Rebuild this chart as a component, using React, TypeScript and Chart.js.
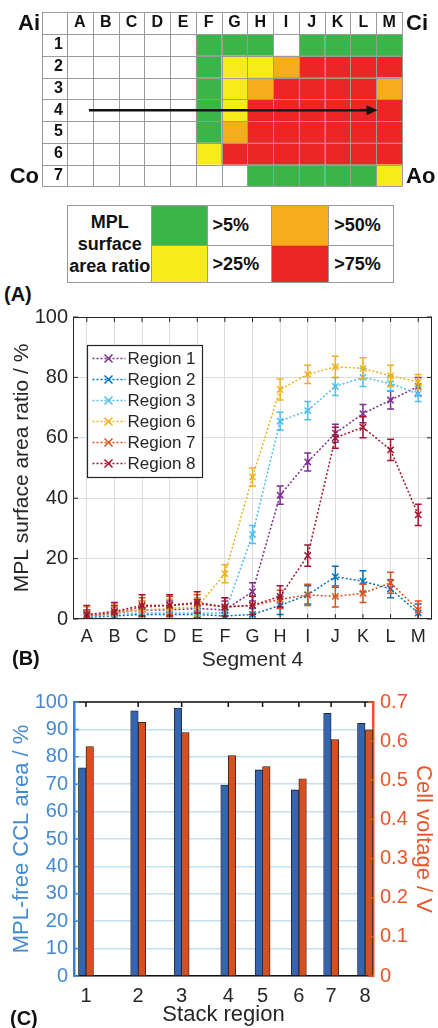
import React, { useEffect, useRef } from "react";
import { Chart, registerables } from "chart.js";
Chart.register(...registerables);

const FONT = "'Liberation Sans', Arial, Helvetica, sans-serif";
const TEXT = "#262626";

// ---------------- Panel A : MPL map ----------------
const segmentCols = ["A", "B", "C", "D", "E", "F", "G", "H", "I", "J", "K", "L", "M"];
const stackRows = ["1", "2", "3", "4", "5", "6", "7"];
// 0 = none, 1 = >5 %, 2 = >25 %, 3 = >50 %, 4 = >75 %
const row1 = [0, 0, 0, 0, 0, 1, 1, 1, 0, 1, 1, 1, 1];
const row2 = [0, 0, 0, 0, 0, 1, 2, 2, 3, 4, 4, 4, 4];
const row3 = [0, 0, 0, 0, 0, 1, 2, 3, 4, 4, 4, 4, 3];
const row4 = [0, 0, 0, 0, 0, 1, 2, 4, 4, 4, 4, 4, 4];
const row5 = [0, 0, 0, 0, 0, 1, 3, 4, 4, 4, 4, 4, 4];
const row6 = [0, 0, 0, 0, 0, 2, 4, 4, 4, 4, 4, 4, 4];
const row7 = [0, 0, 0, 0, 0, 0, 0, 1, 1, 1, 1, 1, 2];
const mapRows = [row1, row2, row3, row4, row5, row6, row7];
const classLabels = [">5%", ">25%", ">50%", ">75%"];
const classColors = ["#3AB54A", "#F6EC1A", "#F7AD1B", "#EC2526"];
const cornerLabels = ["Ai", "Ci", "Co", "Ao"];
const arrowRow = "4";
const keyTitle = ["MPL", "surface", "area ratio"];

// ---------------- Panel B : segment 4 profiles ----------------
const regionNames = ["Region 1", "Region 2", "Region 3", "Region 6", "Region 7", "Region 8"];
const regionColors = ["#7E2F8E", "#0072BD", "#4DBEEE", "#EDB120", "#D95319", "#A2142F"];
const region1 = [1, 2, 3, 3, 3.5, 3, 9, 41, 52, 61.5, 68, 72.5, 77];
const region2 = [0.5, 1, 1.5, 1.5, 1.5, 1, 1.5, 4.5, 8, 14, 12.5, 10, 2];
const region3 = [1, 1.5, 2, 2, 2, 2, 28, 65.5, 69, 77, 80, 78, 74.5];
const region6 = [1, 2, 3, 3.5, 4, 15, 47, 76, 81, 83.5, 83, 80.5, 78.5];
const region7 = [1, 2, 4, 4.5, 5, 4, 4.5, 6.5, 8, 7.5, 8.5, 12, 3];
const region8 = [1.5, 2.5, 4.5, 4.5, 5.5, 4, 4.5, 7.5, 21, 60, 63.5, 56, 34.5];
const region1Err = [2, 2.5, 3, 3, 3, 3, 3, 3, 3, 3, 3, 3, 3];
const region2Err = [1.5, 1.5, 2, 2, 2, 2, 2, 3, 3, 3.5, 3.5, 3, 3];
const region3Err = [1.5, 1.5, 2, 2, 2, 2, 3, 3, 3, 3, 3, 2.5, 2.5];
const region6Err = [3, 3, 3, 3, 3, 3, 3, 3.5, 3, 3.5, 3.5, 3.5, 2.5];
const region7Err = [2, 2, 3, 3, 3, 3, 3, 3, 3.5, 3.5, 3, 3.5, 3];
const region8Err = [3, 3, 3.5, 3.5, 3.5, 3, 3, 3.5, 3.5, 3.5, 3.5, 3.5, 3.5];
const regionValues = [region1, region2, region3, region6, region7, region8];
const regionErrors = [region1Err, region2Err, region3Err, region6Err, region7Err, region8Err];

// ---------------- Panel C : stack regions ----------------
const stackRegions = ["1", "2", "3", "4", "5", "6", "7", "8"];
const stackPositions = [1, 2.31, 3.4, 4.57, 5.43, 6.34, 7.15, 8];
const mplFreeArea = [76, 96.8, 97.8, 69.7, 75.2, 67.9, 95.9, 92.2];
const cellVoltage = [0.586, 0.648, 0.622, 0.563, 0.535, 0.504, 0.604, 0.629];

const BLUE_TXT = "#4589CF";
const RED_TXT = "#E8552C";

Chart.defaults.font.family = FONT;
Chart.defaults.color = TEXT;

function makeMap(canvas: HTMLCanvasElement) {
  const cells = mapRows.flatMap((row, r) =>
    row.map((c, k) => ({ x: segmentCols[k], y: stackRows[r], c }))
  );
  const plugin = {
    id: "heat",
    beforeDatasetsDraw(chart: any) {
      const { ctx, chartArea: ca, scales } = chart;
      const x = scales.x, y = scales.y;
      const cw = x.getPixelForValue(1) - x.getPixelForValue(0);
      const ch = y.getPixelForValue(1) - y.getPixelForValue(0);
      const meta = chart.getDatasetMeta(0);
      const data = chart.data.datasets[0].data;
      ctx.save();
      meta.data.forEach((pt: any, i: number) => {
        const cls = data[i].c;
        if (!cls) return;
        ctx.fillStyle = classColors[cls - 1];
        ctx.fillRect(pt.x - cw / 2, pt.y - ch / 2, cw, ch);
      });
      const left0 = y.left, top0 = x.top;
      ctx.strokeStyle = "#9a9a9a";
      ctx.lineWidth = 1;
      ctx.beginPath();
      for (let i = 0; i <= segmentCols.length; i++) {
        const xx = Math.round(ca.left + i * cw) + 0.5;
        ctx.moveTo(xx, top0); ctx.lineTo(xx, ca.bottom);
      }
      ctx.moveTo(left0 + 0.5, top0); ctx.lineTo(left0 + 0.5, ca.bottom);
      for (let j = 0; j <= stackRows.length; j++) {
        const yy = Math.round(ca.top + j * ch) + 0.5;
        ctx.moveTo(left0, yy); ctx.lineTo(ca.right, yy);
      }
      ctx.moveTo(left0, top0 + 0.5); ctx.lineTo(ca.right, top0 + 0.5);
      ctx.stroke();
      // arrow along row 4
      const ry = y.getPixelForValue(stackRows.indexOf(arrowRow));
      const xs = x.getPixelForValue(0) + 0.35 * cw;
      const xe = x.getPixelForValue(segmentCols.length - 1) - 0.45 * cw;
      ctx.strokeStyle = "#111";
      ctx.fillStyle = "#111";
      ctx.lineWidth = 2.5;
      ctx.beginPath();
      ctx.moveTo(xs, ry); ctx.lineTo(xe - 8, ry);
      ctx.stroke();
      ctx.beginPath();
      ctx.moveTo(xe, ry); ctx.lineTo(xe - 11, ry - 5); ctx.lineTo(xe - 11, ry + 5);
      ctx.closePath();
      ctx.fill();
      // corner labels
      ctx.font = `bold 22px ${FONT}`;
      ctx.textBaseline = "middle";
      const hy = (x.top + x.bottom) / 2 + 1;
      const r7 = y.getPixelForValue(stackRows.length - 1) + 1;
      ctx.textAlign = "right";
      ctx.fillText(cornerLabels[0], left0 - 2, hy);
      ctx.fillText(cornerLabels[2], left0 - 3, r7);
      ctx.textAlign = "left";
      ctx.fillText(cornerLabels[1], ca.right + 4, hy);
      ctx.fillText(cornerLabels[3], ca.right + 4, r7);
      ctx.restore();
    },
  };
  return new Chart(canvas, {
    type: "line",
    data: {
      datasets: [{ data: cells as any, showLine: false, pointRadius: 0 }],
    },
    options: {
      responsive: false,
      animation: false,
      layout: { padding: { left: 42, top: 12, right: 36, bottom: 5 } },
      plugins: { legend: { display: false }, tooltip: { enabled: false } },
      scales: {
        x: {
          type: "category",
          labels: segmentCols,
          position: "top",
          offset: true,
          grid: { display: false, drawTicks: false },
          border: { display: false },
          ticks: { font: { size: 16, weight: "bold" }, color: "#111", padding: 2, autoSkip: false, maxRotation: 0 },
          afterFit: (s: any) => { s.height = 22; },
        },
        y: {
          type: "category",
          labels: stackRows,
          offset: true,
          grid: { display: false, drawTicks: false },
          border: { display: false },
          ticks: { font: { size: 16, weight: "bold" }, color: "#111", padding: 4, autoSkip: false },
          afterFit: (s: any) => { s.width = 25; },
        },
      },
    } as any,
    plugins: [plugin],
  });
}

function makeProfile(canvas: HTMLCanvasElement) {
  const plugin = {
    id: "matlabB",
    afterDatasetDraw(chart: any, args: any) {
      const { ctx, chartArea: ca, scales } = chart;
      const ds = chart.data.datasets[args.index];
      const errs = ds.errorBars as number[];
      const vals = ds.data as number[];
      ctx.save();
      ctx.beginPath();
      ctx.rect(ca.left, ca.top, ca.right - ca.left, ca.bottom - ca.top);
      ctx.clip();
      ctx.strokeStyle = ds.borderColor;
      ctx.lineWidth = 1.5;
      ctx.beginPath();
      args.meta.data.forEach((pt: any, i: number) => {
        const t = scales.y.getPixelForValue(vals[i] + errs[i]);
        const b = scales.y.getPixelForValue(vals[i] - errs[i]);
        ctx.moveTo(pt.x, t); ctx.lineTo(pt.x, b);
        ctx.moveTo(pt.x - 3.5, t); ctx.lineTo(pt.x + 3.5, t);
        ctx.moveTo(pt.x - 3.5, b); ctx.lineTo(pt.x + 3.5, b);
      });
      ctx.stroke();
      ctx.restore();
    },
    afterDraw(chart: any) {
      const { ctx, chartArea: ca, scales } = chart;
      ctx.save();
      // frame + inner ticks
      ctx.strokeStyle = TEXT;
      ctx.lineWidth = 1;
      ctx.strokeRect(ca.left + 0.5, ca.top + 0.5, ca.right - ca.left - 1, ca.bottom - ca.top - 1);
      ctx.beginPath();
      scales.x.ticks.forEach((_t: any, i: number) => {
        const px = scales.x.getPixelForTick(i);
        ctx.moveTo(px, ca.top); ctx.lineTo(px, ca.top + 5);
        ctx.moveTo(px, ca.bottom); ctx.lineTo(px, ca.bottom - 5);
      });
      scales.y.ticks.forEach((t: any) => {
        const py = scales.y.getPixelForValue(t.value);
        ctx.moveTo(ca.left, py); ctx.lineTo(ca.left + 5, py);
        ctx.moveTo(ca.right, py); ctx.lineTo(ca.right - 5, py);
      });
      ctx.stroke();
      // legend
      const bx = ca.left + 14.5, by = ca.top + 28.5, bw = 115, bh = 132;
      ctx.fillStyle = "#fff";
      ctx.fillRect(bx, by, bw, bh);
      ctx.strokeStyle = TEXT;
      ctx.lineWidth = 1.2;
      ctx.strokeRect(bx, by, bw, bh);
      chart.data.datasets.forEach((ds: any, k: number) => {
        const yy = by + 13 + k * 21;
        ctx.strokeStyle = ds.borderColor;
        ctx.lineWidth = 1.5;
        ctx.setLineDash([2, 2]);
        ctx.beginPath();
        ctx.moveTo(bx + 5, yy); ctx.lineTo(bx + 38, yy);
        ctx.stroke();
        ctx.setLineDash([]);
        ctx.beginPath();
        ctx.moveTo(bx + 17, yy - 4); ctx.lineTo(bx + 25, yy + 4);
        ctx.moveTo(bx + 17, yy + 4); ctx.lineTo(bx + 25, yy - 4);
        ctx.stroke();
        ctx.fillStyle = TEXT;
        ctx.font = `17px ${FONT}`;
        ctx.textAlign = "left";
        ctx.textBaseline = "middle";
        ctx.fillText(ds.label, bx + 40, yy + 1);
      });
      ctx.restore();
    },
  };
  return new Chart(canvas, {
    type: "line",
    data: {
      labels: segmentCols,
      datasets: regionNames.map((name, i) => ({
        label: name,
        data: regionValues[i],
        errorBars: regionErrors[i],
        borderColor: regionColors[i],
        backgroundColor: regionColors[i],
        borderWidth: 1.5,
        borderDash: [2, 2],
        pointStyle: "crossRot",
        pointRadius: 4.5,
        pointBorderWidth: 1.5,
        pointBorderColor: regionColors[i],
        fill: false,
        tension: 0,
        order: regionNames.length - 1 - i,
      })) as any,
    },
    options: {
      responsive: false,
      animation: false,
      layout: { padding: { left: 0, top: 12, right: 2, bottom: 0 } },
      plugins: { legend: { display: false }, tooltip: { enabled: false } },
      scales: {
        x: {
          type: "category",
          offset: true,
          grid: { offset: false, color: "#DCDCDC", drawTicks: false },
          border: { display: false },
          ticks: { font: { size: 18 }, color: TEXT, padding: 7, autoSkip: false, maxRotation: 0 },
          title: { display: true, text: "Segment 4", font: { size: 21 }, color: TEXT, padding: { top: 0, bottom: 2 } },
          afterFit: (s: any) => { s.height = 56; },
        },
        y: {
          min: 0,
          max: 100,
          ticks: { stepSize: 20, font: { size: 20 }, color: TEXT, padding: 5 },
          grid: { color: "#DCDCDC", drawTicks: false },
          border: { display: false },
          title: { display: true, text: "MPL surface area ratio / %", font: { size: 21 }, color: TEXT, padding: { top: 10, bottom: 0 } },
          afterFit: (s: any) => { s.width = 73; },
        },
      },
    } as any,
    plugins: [plugin],
  });
}

function makeBars(canvas: HTMLCanvasElement) {
  const plugin = {
    id: "frameC",
    afterDraw(chart: any) {
      const { ctx, chartArea: ca, scales } = chart;
      ctx.save();
      ctx.strokeStyle = "#111";
      ctx.lineWidth = 1.5;
      ctx.beginPath();
      ctx.moveTo(ca.left, ca.top); ctx.lineTo(ca.right, ca.top);
      stackPositions.forEach((p) => {
        const px = scales.x.getPixelForValue(p);
        ctx.moveTo(px, ca.top); ctx.lineTo(px, ca.top + 5);
      });
      ctx.stroke();
      ctx.lineWidth = 1.5;
      ctx.strokeStyle = BLUE_TXT;
      ctx.beginPath();
      scales.y.ticks.forEach((t: any) => {
        const py = scales.y.getPixelForValue(t.value);
        ctx.moveTo(ca.left, py); ctx.lineTo(ca.left + 5, py);
      });
      ctx.stroke();
      ctx.strokeStyle = RED_TXT;
      ctx.beginPath();
      scales.y1.ticks.forEach((t: any) => {
        const py = scales.y1.getPixelForValue(t.value);
        ctx.moveTo(ca.right, py); ctx.lineTo(ca.right - 5, py);
      });
      ctx.stroke();
      ctx.restore();
    },
  };
  return new Chart(canvas, {
    type: "bar",
    data: {
      datasets: [
        {
          label: "MPL-free CCL area",
          data: stackPositions.map((p, i) => ({ x: p, y: mplFreeArea[i] })),
          yAxisID: "y",
          backgroundColor: "#3564B0",
          borderColor: "#1b1b1b",
          borderWidth: 0.8,
          barThickness: 7.5,
        },
        {
          label: "Cell voltage",
          data: stackPositions.map((p, i) => ({ x: p, y: cellVoltage[i] })),
          yAxisID: "y1",
          backgroundColor: "#D4501F",
          borderColor: "#1b1b1b",
          borderWidth: 0.8,
          barThickness: 7.5,
        },
      ] as any,
    },
    options: {
      responsive: false,
      animation: false,
      layout: { padding: { left: 0, top: 22, right: 0, bottom: 0 } },
      plugins: { legend: { display: false }, tooltip: { enabled: false } },
      scales: {
        x: {
          type: "linear",
          min: 0.7,
          max: 8.2,
          offset: false,
          afterBuildTicks: (s: any) => { s.ticks = stackPositions.map((v) => ({ value: v })); },
          ticks: {
            callback: (_v: any, i: number) => stackRegions[i],
            font: { size: 20 },
            color: TEXT,
            padding: 8,
            autoSkip: false,
            maxRotation: 0,
          },
          grid: { display: false, drawTicks: false },
          border: { color: "#111", width: 1.5 },
          title: { display: true, text: "Stack region", font: { size: 22 }, color: TEXT, padding: { top: 0, bottom: 0 } },
          afterFit: (s: any) => { s.height = 52; },
        },
        y: {
          position: "left",
          min: 0,
          max: 100,
          ticks: { stepSize: 10, font: { size: 20 }, color: BLUE_TXT, padding: 6, autoSkip: false },
          grid: { color: "#C3DFF2", lineWidth: 1.5, drawTicks: false },
          border: { color: "#3D80D2", width: 2.5 },
          title: { display: true, text: "MPL-free CCL area / %", font: { size: 22 }, color: BLUE_TXT, padding: { top: 9, bottom: 0 } },
          afterFit: (s: any) => { s.width = 74; },
        },
        y1: {
          position: "right",
          min: 0,
          max: 0.7,
          ticks: {
            stepSize: 0.1,
            font: { size: 20 },
            color: RED_TXT,
            padding: 7,
            autoSkip: false,
            callback: (v: any) => (Number(v) === 0 ? "0" : Number(v).toFixed(1)),
          },
          grid: { drawOnChartArea: false, drawTicks: false },
          border: { color: "#E4532B", width: 2.5 },
          title: { display: true, text: "Cell voltage / V", font: { size: 22 }, color: RED_TXT, padding: { top: 2, bottom: 0 } },
          afterFit: (s: any) => { s.width = 65; },
        },
      },
    } as any,
    plugins: [plugin],
  });
}

const cellStyle: React.CSSProperties = {
  border: "1px solid #9a9a9a",
  padding: "0 0 0 5px",
  textAlign: "left",
};

const panelLabel: React.CSSProperties = {
  position: "absolute",
  fontFamily: FONT,
  fontWeight: "bold",
  fontSize: 20,
  color: "#111",
  lineHeight: "22px",
};

export default function App() {
  const aRef = useRef<HTMLCanvasElement>(null);
  const bRef = useRef<HTMLCanvasElement>(null);
  const cRef = useRef<HTMLCanvasElement>(null);
  useEffect(() => {
    const charts = [
      makeMap(aRef.current as HTMLCanvasElement),
      makeProfile(bRef.current as HTMLCanvasElement),
      makeBars(cRef.current as HTMLCanvasElement),
    ];
    return () => charts.forEach((c) => c.destroy());
  }, []);
  return (
    <div style={{ position: "absolute", left: 0, top: 0, width: 438, height: 1028, background: "#fff", overflow: "hidden", fontFamily: FONT }}>
      <canvas ref={aRef} width={438} height={200} style={{ position: "absolute", left: 0, top: 0, width: 438, height: 200 }} />
      <table
        style={{
          position: "absolute",
          left: 67,
          top: 205,
          width: 327,
          height: 77,
          borderCollapse: "collapse",
          fontFamily: FONT,
          fontWeight: "bold",
          fontSize: 18,
          color: "#111",
        }}
      >
        <tbody>
          <tr style={{ height: 40 }}>
            <td rowSpan={2} style={{ ...cellStyle, width: 87, padding: 0, textAlign: "center", lineHeight: "22px" }}>
              {keyTitle[0]}
              <br />
              {keyTitle[1]}
              <br />
              {keyTitle[2]}
            </td>
            <td style={{ ...cellStyle, width: 58, background: classColors[0] }} />
            <td style={{ ...cellStyle, width: 61 }}>{classLabels[0]}</td>
            <td style={{ ...cellStyle, width: 60, background: classColors[2] }} />
            <td style={{ ...cellStyle, width: 61 }}>{classLabels[2]}</td>
          </tr>
          <tr style={{ height: 37 }}>
            <td style={{ ...cellStyle, background: classColors[1] }} />
            <td style={cellStyle}>{classLabels[1]}</td>
            <td style={{ ...cellStyle, background: classColors[3] }} />
            <td style={cellStyle}>{classLabels[3]}</td>
          </tr>
        </tbody>
      </table>
      <div style={{ ...panelLabel, left: 4, top: 283 }}>(A)</div>
      <canvas ref={bRef} width={438} height={375} style={{ position: "absolute", left: 0, top: 300, width: 438, height: 375 }} />
      <div style={{ ...panelLabel, left: 12, top: 647 }}>(B)</div>
      <canvas ref={cRef} width={438} height={348} style={{ position: "absolute", left: 0, top: 680, width: 438, height: 348 }} />
      <div style={{ ...panelLabel, left: 10, top: 1007 }}>(C)</div>
    </div>
  );
}
